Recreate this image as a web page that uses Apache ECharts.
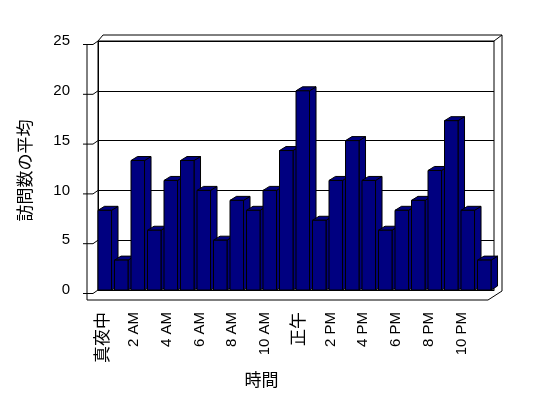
<!DOCTYPE html>
<html>
<head>
<meta charset="utf-8">
<script src="https://cdn.jsdelivr.net/npm/echarts@6/dist/echarts.min.js"></script>
<style>
  html, body { margin: 0; padding: 0; background: #fff; }
  #main { width: 548px; height: 398px; }
</style>
</head>
<body>
<div id="main"></div>
<script>
// 時間帯ごとの訪問数の平均
var categories = ['真夜中', '1 AM', '2 AM', '3 AM', '4 AM', '5 AM', '6 AM', '7 AM', '8 AM', '9 AM', '10 AM', '11 AM',
                  '正午', '1 PM', '2 PM', '3 PM', '4 PM', '5 PM', '6 PM', '7 PM', '8 PM', '9 PM', '10 PM', '11 PM'];
var visits = [8, 3, 13, 6, 11, 13, 10, 5, 9, 8, 10, 14, 20, 7, 11, 15, 11, 6, 8, 9, 12, 17, 8, 3];
var yTicks = [0, 5, 10, 15, 20, 25];

var barColor = '#000080';

// 3D風の枠（背面・左壁・床）
function renderFrame(params, api) {
    var cs = params.coordSys;
    var L = cs.x, T = cs.y, R = cs.x + cs.width, B = cs.y + cs.height;
    var st = { stroke: '#000', lineWidth: 1, fill: null };
    var kids = [];
    // 背面の奥行き
    kids.push({ type: 'polyline', shape: { points: [[L, T], [L + 5, T - 6], [R + 8, T - 6], [R + 8, B + 1]] }, style: st });
    kids.push({ type: 'line', shape: { x1: R, y1: T, x2: R + 8, y2: T - 6 }, style: st });
    // 左壁の前端
    var top25 = api.coord([0, 25])[1];
    kids.push({ type: 'line', shape: { x1: L - 11, y1: top25 + 4, x2: L - 11, y2: B + 10 }, style: st });
    // 床
    kids.push({ type: 'polyline', shape: { points: [[L - 11, B + 10], [R - 6, B + 10], [R + 8, B + 1]] }, style: st });
    // 左壁の目盛
    for (var i = 0; i < yTicks.length; i++) {
        var y = api.coord([0, yTicks[i]])[1];
        kids.push({ type: 'polyline', shape: { points: [[L - 15, y + 3.5], [L - 5, y + 3.5], [L, y]] }, style: st });
    }
    return { type: 'group', children: kids };
}

// 3D風の棒
function renderBar(params, api) {
    var c = api.value(0), v = api.value(1);
    var top = api.coord([c, v]);
    var base = api.coord([c, 0]);
    var w = api.size([1, 0])[0];
    var x0 = base[0] - w / 2;
    var fw = w * 0.82;
    var dx = 6.5, dy = -4;
    var yt = top[1], yb = base[1];
    var st = { fill: barColor, stroke: '#000', lineWidth: 1 };
    return {
        type: 'group',
        children: [
            { type: 'polygon', shape: { points: [[x0 + fw, yt], [x0 + fw + dx, yt + dy], [x0 + fw + dx, yb + dy], [x0 + fw, yb]] }, style: st },
            { type: 'polygon', shape: { points: [[x0, yt], [x0 + dx, yt + dy], [x0 + fw + dx, yt + dy], [x0 + fw, yt]] }, style: st },
            { type: 'rect', shape: { x: x0, y: yt, width: fw, height: yb - yt }, style: st }
        ]
    };
}

var barData = [];
for (var i = 0; i < categories.length; i++) {
    barData.push([i, visits[i]]);
}

var option = {
    animation: false,
    backgroundColor: '#fff',
    grid: [
        { left: 98, right: 54, top: 41, bottom: 108, show: true, borderColor: '#000', borderWidth: 1, backgroundColor: '#fff' },
        { left: 93, right: 62, top: 41, bottom: 108 }
    ],
    xAxis: [
        {
            gridIndex: 0,
            type: 'category',
            data: categories,
            axisLine: { lineStyle: { color: '#000' } },
            axisTick: { length: 10, lineStyle: { color: '#000' } },
            axisLabel: { show: false }
        },
        {
            gridIndex: 1,
            type: 'category',
            data: categories,
            axisLine: { show: false },
            axisTick: { show: false },
            axisLabel: {
                interval: 1,
                rotate: 90,
                margin: 22,
                color: '#000',
                fontSize: 15,
                fontFamily: 'Liberation Sans',
                formatter: function (v) {
                    return /[^\x00-\x7f]/.test(v) ? '{j|' + v + '}' : v;
                },
                rich: { j: { fontFamily: 'Noto Sans CJK JP', fontSize: 17, color: '#000' } }
            },
            name: '時間',
            nameLocation: 'middle',
            nameGap: 76,
            nameTextStyle: { fontFamily: 'Noto Sans CJK JP', fontSize: 17, color: '#000', padding: [0, 56, 0, 0] }
        }
    ],
    yAxis: [
        {
            gridIndex: 0,
            type: 'value',
            min: 0,
            max: 25,
            interval: 5,
            axisLine: { show: true, lineStyle: { color: '#000' } },
            axisTick: { show: false },
            splitLine: { lineStyle: { color: '#000', width: 1 } },
            axisLabel: { margin: 28, color: '#000', fontSize: 15, fontFamily: 'Liberation Sans', padding: [7, 0, 0, 0] },
            name: '訪問数の平均',
            nameLocation: 'middle',
            nameGap: 65,
            nameTextStyle: { fontFamily: 'Noto Sans CJK JP', fontSize: 17, color: '#000', padding: [0, 10, 0, 0] }
        },
        { gridIndex: 1, type: 'value', min: 0, max: 25, show: false }
    ],
    series: [
        {
            type: 'custom',
            xAxisIndex: 0,
            yAxisIndex: 0,
            renderItem: renderFrame,
            data: [[0, 0]],
            z: 1,
            silent: true
        },
        {
            type: 'custom',
            xAxisIndex: 0,
            yAxisIndex: 0,
            renderItem: renderBar,
            data: barData,
            z: 2
        }
    ]
};

var myChart = echarts.init(document.getElementById('main'));
myChart.setOption(option);
</script>
</body>
</html>
